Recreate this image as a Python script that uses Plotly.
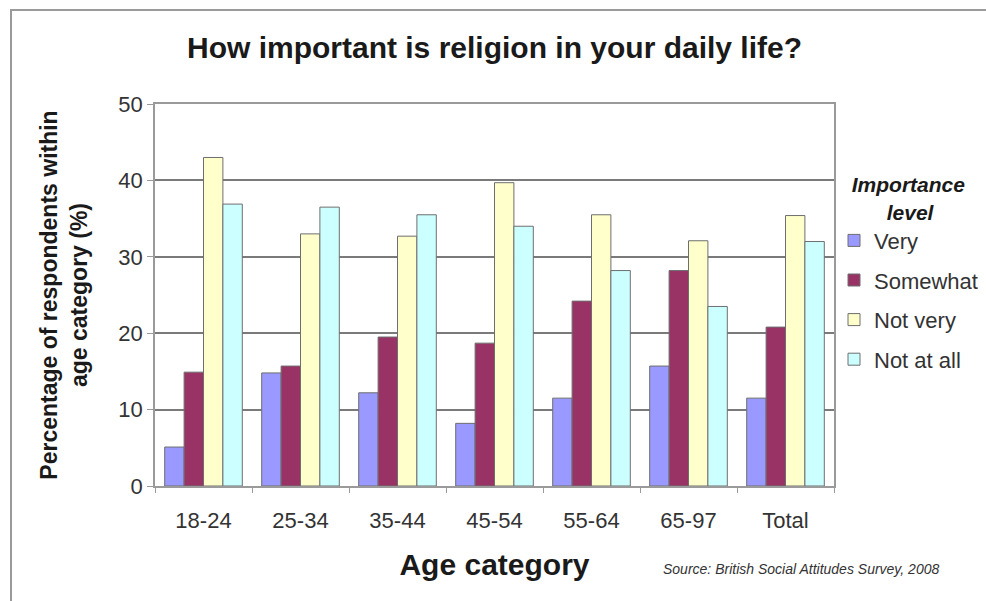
import plotly.graph_objects as go

categories = ["18-24", "25-34", "35-44", "45-54", "55-64", "65-97", "Total"]
very = [5.1, 14.8, 12.2, 8.2, 11.5, 15.7, 11.5]
somewhat = [14.9, 15.7, 19.5, 18.7, 24.2, 28.2, 20.8]
not_very = [43.0, 33.0, 32.7, 39.7, 35.5, 32.1, 35.4]
not_at_all = [36.9, 36.5, 35.5, 34.0, 28.2, 23.5, 32.0]

series = [
    ("Very", very, "#9999FF"),
    ("Somewhat", somewhat, "#993366"),
    ("Not very", not_very, "#FFFFCC"),
    ("Not at all", not_at_all, "#CCFFFF"),
]

W, H = 986, 601
L, R, T, B = 155, 834, 104, 486

fig = go.Figure()
for i, (name, vals, col) in enumerate(series):
    fig.add_trace(go.Bar(
        x=categories, y=vals, name=name, legendgroup=f"g{i}",
        marker=dict(color=col, line=dict(color="#6e6e6e", width=1)),
    ))

font = "Liberation Sans, Arial, sans-serif"

def px_x(p):
    return (p - L) / (R - L)

def px_y(p):
    return (B - p) / (B - T)

fig.update_layout(
    width=W, height=H,
    margin=dict(l=L, r=W - R, t=T, b=H - B, autoexpand=False),
    paper_bgcolor="white", plot_bgcolor="white",
    font=dict(family=font, color="#333333", size=22),
    barmode="group", bargap=0.2, bargroupgap=0.0,
    title=dict(text="<b>How important is religion in your daily life?</b>",
               x=0.5, xref="paper", xanchor="center", y=1 - 47 / H, yanchor="middle",
               font=dict(size=30, color="#1a1a1a")),
    xaxis=dict(
        showgrid=False, showline=True, linecolor="#9a9a9a", linewidth=1.5, mirror=True,
        ticks="outside", ticklen=5, tickcolor="#9a9a9a", tickson="boundaries",
        tickfont=dict(size=22, color="#333333"), ticklabelstandoff=14,
        title=dict(text="<b>Age category</b>", font=dict(size=30, color="#1a1a1a"), standoff=22),
    ),
    yaxis=dict(
        range=[0, 50], dtick=10, showgrid=True, gridcolor="#7a7a7a", gridwidth=1.5,
        showline=True, linecolor="#9a9a9a", linewidth=1.5, mirror=True,
        ticks="outside", ticklen=6, tickcolor="#9a9a9a",
        tickfont=dict(size=22, color="#333333"),
        zeroline=False,
        title=dict(text="<b>Percentage of respondents within<br>age category (%)</b>",
                   font=dict(size=23, color="#1a1a1a"), standoff=24),
    ),
    legend=dict(
        x=px_x(834), xanchor="left", y=px_y(165), yanchor="top",
        title=dict(text="<b><i>Importance<br>" + "&nbsp;" * 6 + "level</i></b>", side="top center",
                   font=dict(size=21, color="#1a1a1a")),
        font=dict(size=22, color="#333333"),
        tracegroupgap=8, itemwidth=30, bgcolor="rgba(0,0,0,0)",
    ),
    shapes=[dict(type="rect", xref="paper", yref="paper",
                 x0=px_x(11), x1=px_x(990), y0=px_y(610), y1=px_y(10),
                 line=dict(color="#9a9a9a", width=2), layer="below")],
    annotations=[dict(text="<i>Source: British Social Attitudes Survey, 2008</i>",
                      xref="paper", yref="paper", x=px_x(801), y=px_y(569),
                      xanchor="center", yanchor="middle", showarrow=False,
                      font=dict(size=14, color="#333333"))],
    showlegend=True,
)

fig.write_html("out.html")
